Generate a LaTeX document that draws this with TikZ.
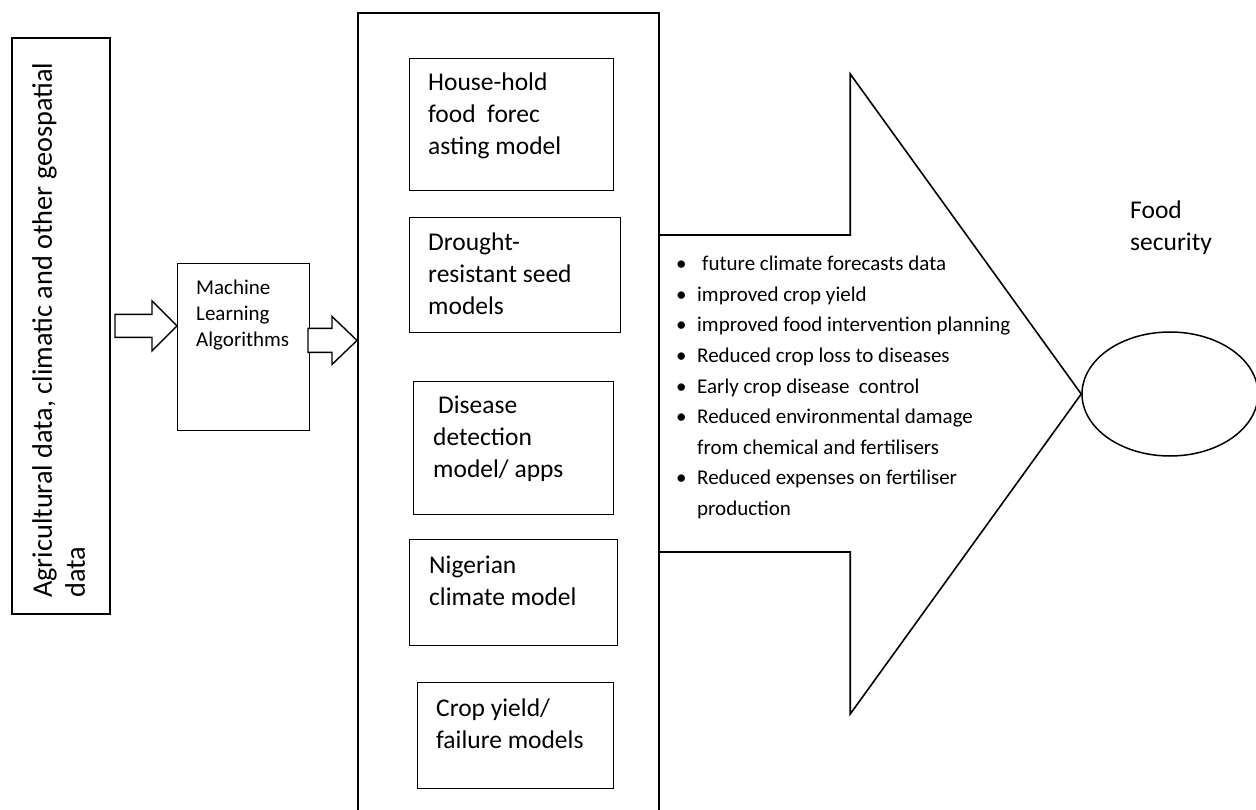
\documentclass[tikz,border=0pt]{standalone}
\usepackage{fontspec}
\setmainfont{Carlito}
\usetikzlibrary{shapes.geometric,positioning,calc}
\tikzset{
  frame/.style={draw,line width=1.6pt,inner sep=0pt,anchor=north west},
  modelbox/.style={draw,line width=1.1pt,inner sep=0pt,anchor=north west},
  boxtext/.style={anchor=west,align=left,inner sep=0pt,font=\fontsize{25.5}{32}\selectfont},
  smalltext/.style={anchor=west,align=left,inner sep=0pt,font=\fontsize{21}{26}\selectfont},
  blockarrow/.style={draw,line width=1.4pt,line join=miter,fill=white},
  outline/.style={draw,line width=1.6pt,line join=miter},
}

\begin{document}
\begin{tikzpicture}[x=1pt, y=-1pt]
  \path[use as bounding box, clip] (0,0) rectangle (1256,810);

  % Input data
  \node[frame, minimum width=98pt, minimum height=576pt] (data) at (11,37) {};
  \node[rotate=90, anchor=north west, align=left, inner sep=0pt, font=\fontsize{28.3}{33}\selectfont] (datatext) at (32,598) {Agricultural data, climatic and other geospatial\\data};

  % Algorithms
  \node[draw, line width=0.9pt, inner sep=0pt, anchor=north west, minimum width=132pt, minimum height=167pt] (ml) at (177,263) {};
  \node[smalltext] (mltext) at (196,315.5) {Machine\\Learning\\Algorithms};

  % Models
  \node[frame, minimum width=301pt, minimum height=830pt] (models) at (357,12) {};
  \node[modelbox, minimum width=204pt, minimum height=132pt] (house) at (409,58) {};
  \node[modelbox, minimum width=211pt, minimum height=115pt] (drought) at (409,217) {};
  \node[modelbox, minimum width=200pt, minimum height=133pt] (disease) at (413,381) {};
  \node[modelbox, minimum width=208pt, minimum height=106pt] (climate) at (409,539) {};
  \node[modelbox, minimum width=196pt, minimum height=106pt] (yield) at (417,682) {};

  \node[boxtext] (housetext) at (428,116) {House-hold\\food\ \ forec\\asting model};
  \node[boxtext] (droughttext) at (428,274) {Drought-\\resistant seed\\models};
  \node[boxtext] (diseasetext) at (433,439) {\hspace{5pt}Disease\\detection\\model/ apps};
  \node[boxtext] (climatetext) at (429,581) {Nigerian\\climate model};
  \node[boxtext] (yieldtext) at (436,724) {Crop yield/\\failure models};

  % Food security
  \node[ellipse, draw, line width=1.5pt, minimum width=176pt, minimum height=124pt] (food) at (1170,394) {};
  \node[boxtext] (foodtext) at (1130,227.5) {Food\\security};

  % Block arrows
  \draw[blockarrow] ([yshift=21pt]ml.west) -- ++(-25,-25) -- ++(0,13.5) -- ++(-37,0) -- ++(0,23) -- ++(37,0) -- ++(0,13.5) -- cycle;
  \draw[blockarrow] ([yshift=6.5pt]ml.east -| models.west) -- ++(-25,-24) -- ++(0,12) -- ++(-24,0) -- ++(0,24) -- ++(24,0) -- ++(0,12) -- cycle;
  \draw[outline] (food.west) -- ++(-231,-320) |- (models.east |- 0,235)
    (models.east |- 0,552) -| ($(food.west)+(-231,320)$) -- (food.west);

  % Outcomes
  \node[anchor=north west, align=left, inner sep=0pt, font=\fontsize{21}{30.6}\selectfont] (gains) at (676,256) {%
    \makebox[21pt][l]{\textbullet}\hspace{5pt}future climate forecasts data\\
    \makebox[21pt][l]{\textbullet}improved crop yield\\
    \makebox[21pt][l]{\textbullet}improved food intervention planning\\
    \makebox[21pt][l]{\textbullet}Reduced crop loss to diseases\\
    \makebox[21pt][l]{\textbullet}Early crop disease\ \ control\\
    \makebox[21pt][l]{\textbullet}Reduced environmental damage\\
    \makebox[21pt][l]{}from chemical and fertilisers\\
    \makebox[21pt][l]{\textbullet}Reduced expenses on fertiliser\\
    \makebox[21pt][l]{}production};
\end{tikzpicture}
\end{document}
